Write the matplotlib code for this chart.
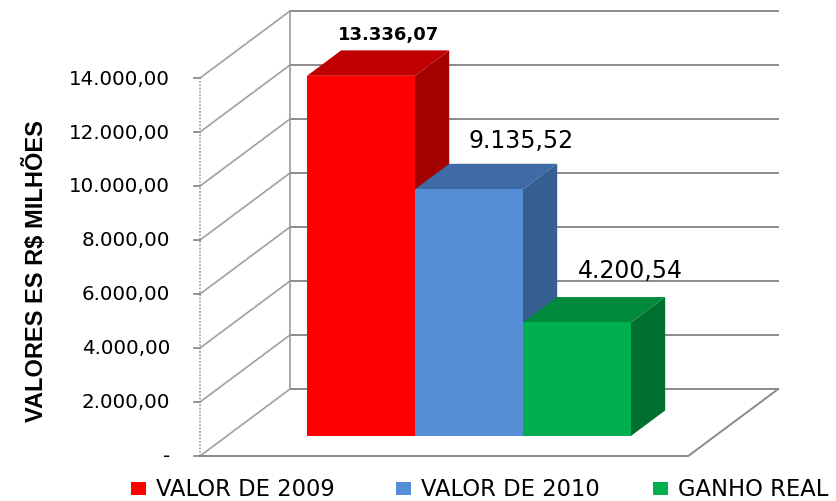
import matplotlib
matplotlib.use("Agg")
import matplotlib.pyplot as plt
from matplotlib.patches import Polygon, Rectangle

# ---------------- data ----------------
categories = ["VALOR DE 2009", "VALOR DE 2010", "GANHO REAL"]
values = [13336.07, 9135.52, 4200.54]
value_labels = ["13.336,07", "9.135,52", "4.200,54"]
tick_values = [0, 2000, 4000, 6000, 8000, 10000, 12000, 14000]
tick_labels = ["-", "2.000,00", "4.000,00", "6.000,00", "8.000,00",
               "10.000,00", "12.000,00", "14.000,00"]
axis_title = "VALORES ES R$ MILHÕES"

front_colors = ["#FF0000", "#558ED5", "#00B050"]
top_colors = ["#C00000", "#3E6BA6", "#008A3E"]
side_colors = ["#A30000", "#365E90", "#00702F"]

# ---------------- layout (pixels) ----------------
W, H = 836, 502
PX_PER_CAT = 108.0
PX_PER_VAL = 0.027
X0, Y0 = 280.0, 457.0          # pixel of (cat 0, value 0) on front floor edge
DEPTH_PX = (90.0, 67.0)        # full depth offset of the box (right, up)
DX = DEPTH_PX[0] / PX_PER_CAT
DV = DEPTH_PX[1] / PX_PER_VAL
C_LEFT, C_RIGHT = -80.0 / PX_PER_CAT, 3.78
V_MAX = tick_values[-1]
BAR_D0, BAR_D1 = 0.30, 0.68

fig = plt.figure(figsize=(W / 100, H / 100), dpi=100)
ax = fig.add_axes([0, 0, 1, 1])
ax.set_xlim(-X0 / PX_PER_CAT, (W - X0) / PX_PER_CAT)
ax.set_ylim(-(H - Y0) / PX_PER_VAL, Y0 / PX_PER_VAL)
ax.axis("off")


def P(c, v, d):
    return (c + d * DX, v + d * DV)


def fpx(x, y):
    return (x / W, 1 - y / H)


grid_col = "#8A8A8A"
# back wall gridlines and left wall diagonals
for v in tick_values:
    a, b = P(C_LEFT, v, 1), P(C_RIGHT, v, 1)
    ax.plot([a[0], b[0]], [a[1], b[1]], color=grid_col, lw=1.4, zorder=1)
    a, b = P(C_LEFT, v, 0), P(C_LEFT, v, 1)
    ax.plot([a[0], b[0]], [a[1], b[1]], color="#A0A0A0", lw=1.2, zorder=1)
    # small tick marks
    t0 = P(C_LEFT - 6 / PX_PER_CAT, v, 0)
    ax.plot([t0[0], a[0]], [t0[1], a[1]], color="#808080", lw=1.2, zorder=1)

# verticals
a, b = P(C_LEFT, 0, 0), P(C_LEFT, V_MAX, 0)
ax.plot([a[0], b[0]], [a[1], b[1]], color="#9A9A9A", lw=1.2, ls=(0, (1, 1)), zorder=1)
a, b = P(C_LEFT, 0, 1), P(C_LEFT, V_MAX, 1)
ax.plot([a[0], b[0]], [a[1], b[1]], color="#9A9A9A", lw=1.2, zorder=1)
# floor
fl = [P(C_LEFT, 0, 0), P(C_RIGHT, 0, 0), P(C_RIGHT, 0, 1)]
ax.plot([p[0] for p in fl], [p[1] for p in fl], color=grid_col, lw=1.4, zorder=1)

# bars
for i, v in enumerate(values):
    c0, c1 = i, i + 1
    front = [P(c0, 0, BAR_D0), P(c1, 0, BAR_D0), P(c1, v, BAR_D0), P(c0, v, BAR_D0)]
    top = [P(c0, v, BAR_D0), P(c1, v, BAR_D0), P(c1, v, BAR_D1), P(c0, v, BAR_D1)]
    side = [P(c1, 0, BAR_D0), P(c1, 0, BAR_D1), P(c1, v, BAR_D1), P(c1, v, BAR_D0)]
    z = 3 + i
    ax.add_patch(Polygon(side, closed=True, fc=side_colors[i], ec="none", zorder=z))
    ax.add_patch(Polygon(top, closed=True, fc=top_colors[i], ec="none", zorder=z))
    ax.add_patch(Polygon(front, closed=True, fc=front_colors[i], ec="none", zorder=z))

# value labels
label_offsets_px = [(-7, 16), (18, 24), (19, 27)]
for i, v in enumerate(values):
    anchor = P(i + 0.5, v, BAR_D1)
    ox, oy = label_offsets_px[i]
    bold = i == 0
    ax.annotate(value_labels[i], xy=anchor, xytext=(ox * 0.72, oy * 0.72),
                textcoords="offset points", ha="center", va="center",
                fontsize=13 if bold else 17, fontweight="bold" if bold else "normal",
                family="DejaVu Sans", color="black", zorder=10)

# tick labels
for v, lab in zip(tick_values, tick_labels):
    p = P(C_LEFT, v, 0)
    ax.annotate(lab, xy=p, xytext=(-30 * 0.72, 0), textcoords="offset points",
                ha="right", va="center", fontsize=14.3, family="DejaVu Sans",
                color="black")

# axis title
fig.text(*fpx(36, 271), axis_title, rotation=90, ha="center", va="center",
         fontsize=17, fontweight="bold", family="Liberation Sans")

# legend
legend_sq_x = [131, 396, 653]
legend_tx_x = [156, 421, 678]
for i, name in enumerate(categories):
    fig.patches.append(Rectangle(fpx(legend_sq_x[i], 496), 15 / W, 13 / H,
                                 transform=fig.transFigure, fc=front_colors[i],
                                 ec="none"))
    fig.text(*fpx(legend_tx_x[i], 490), name, ha="left", va="center",
             fontsize=16.3, family="DejaVu Sans", color="black")

fig.savefig("out.png", dpi=100)
